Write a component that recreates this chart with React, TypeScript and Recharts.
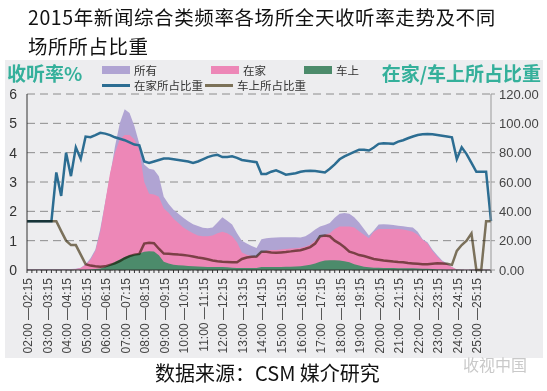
import { Area, CartesianGrid, ComposedChart, Line, XAxis, YAxis } from 'recharts'

// 02:00 - 26:00, one value per 15 minutes (96 slots)
const hourLabels = [
  '02:00 —02:15', '03:00 —03:15', '04:00 —04:15', '05:00 —05:15', '06:00 —06:15', '07:00 —07:15',
  '08:00 —08:15', '09:00 —09:15', '10:00 —10:15', '11:00 —11:15', '12:00 —12:15', '13:00 —13:15',
  '14:00 —14:15', '15:00 —15:15', '16:00 —16:15', '17:00 —17:15', '18:00 —18:15', '19:00 —19:15',
  '20:00 —20:15', '21:00 —21:15', '22:00 —22:15', '23:00 —23:15', '24:00 —24:15', '25:00 —25:15',
]

// 所有 (left axis, %)
const allRating = [
  0.03, 0.03, 0.03, 0.03, 0.03, 0.03, 0.03, 0.03, 0.03, 0.03,
  0.04, 0.08, 0.2, 0.4, 0.7, 1.4, 2.3, 3.2, 4.2, 5.0,
  5.48, 5.35, 4.9, 4.3, 3.6, 3.45, 3.42, 3.2, 2.5, 2.25,
  2.05, 1.92, 1.78, 1.66, 1.56, 1.5, 1.44, 1.42, 1.45, 1.62,
  1.8, 1.68, 1.55, 1.25, 1.0, 0.9, 0.82, 0.75, 1.05, 1.08,
  1.1, 1.11, 1.12, 1.12, 1.12, 1.12, 1.11, 1.15, 1.25, 1.38,
  1.48, 1.53, 1.6, 1.78, 1.92, 1.94, 1.92, 1.8, 1.62, 1.4,
  1.18, 1.35, 1.55, 1.56, 1.55, 1.53, 1.51, 1.49, 1.47, 1.45,
  1.3, 1.05, 0.95, 0.7, 0.5, 0.32, 0.22, 0.1, 0.02, 0.01,
  0.01, 0.01, 0.01, 0.01, 0.01, 0.01,
]

// 在家
const homeRating = [
  0.02, 0.02, 0.02, 0.02, 0.02, 0.02, 0.02, 0.02, 0.02, 0.02,
  0.03, 0.07, 0.18, 0.35, 0.65, 1.3, 2.3, 3.3, 4.0, 4.45,
  4.6, 4.6, 4.45, 4.1, 3.0, 2.6, 2.57, 2.5, 2.1, 1.95,
  1.75, 1.6, 1.45, 1.35, 1.25, 1.18, 1.15, 1.15, 1.18, 1.25,
  1.3, 1.25, 1.15, 0.95, 0.6, 0.52, 0.48, 0.45, 0.6, 0.66,
  0.68, 0.68, 0.7, 0.72, 0.73, 0.74, 0.76, 0.8, 0.86, 1.0,
  1.1, 1.2, 1.25, 1.4, 1.48, 1.48, 1.48, 1.45, 1.32, 1.2,
  1.08, 1.3, 1.4, 1.4, 1.4, 1.4, 1.4, 1.38, 1.35, 1.3,
  1.2, 1.03, 0.9, 0.65, 0.45, 0.3, 0.2, 0.1, 0.02, 0.01,
  0.005, 0.005, 0.005, 0.005, 0.005, 0.005,
]

// 车上
const carRating = [
  0.01, 0.01, 0.01, 0.01, 0.01, 0.01, 0.01, 0.01, 0.01, 0.01,
  0.01, 0.01, 0.01, 0.02, 0.03, 0.05, 0.1, 0.18, 0.27, 0.36,
  0.44, 0.5, 0.53, 0.56, 0.62, 0.64, 0.63, 0.5, 0.28, 0.22,
  0.18, 0.16, 0.15, 0.14, 0.13, 0.12, 0.11, 0.1, 0.1, 0.1,
  0.1, 0.09, 0.08, 0.07, 0.07, 0.07, 0.07, 0.07, 0.1, 0.1,
  0.1, 0.1, 0.1, 0.11, 0.11, 0.12, 0.13, 0.15, 0.18, 0.22,
  0.28, 0.32, 0.33, 0.33, 0.32, 0.3, 0.26, 0.2, 0.15, 0.11,
  0.09, 0.08, 0.08, 0.07, 0.07, 0.07, 0.06, 0.06, 0.06, 0.06,
  0.05, 0.04, 0.04, 0.03, 0.02, 0.02, 0.01, 0.01, 0.005, 0.003,
  0.003, 0.003, 0.003, 0.003, 0.003, 0.003,
]

// 在家所占比重 (right axis)
const homeShare = [
  33.3, 33.3, 33.3, 33.3, 33.3, 33.3, 66.5, 50.5, 80, 64,
  83.6, 75.7, 91, 90.6, 92, 93.5, 93, 92, 90.5, 89.5,
  88.5, 87, 85.5, 85, 74, 73, 74, 75, 76, 76,
  75.5, 75, 74.5, 74, 73, 74, 75.5, 77, 78, 78.5,
  77, 77, 77.5, 76.5, 75, 74.5, 74, 73.5, 65.5, 65.5,
  67, 68, 66.5, 65, 65.5, 66, 67, 67.5, 67.7, 67.5,
  67, 66.5, 69, 72, 75.5, 77.5, 79, 80.5, 82, 82,
  81.5, 83.5, 86, 86.4, 86.2, 86, 87.5, 88.5, 89.8, 91,
  92, 92.5, 92.8, 92.5, 92, 91.5, 91, 90.5, 75.6, 83.6,
  79, 73, 67, 67, 67, 33.4,
]

// 车上所占比重 (right axis)
const carShare = [
  33.3, 33.3, 33.3, 33.3, 33.3, 33.3, 33.3, 26.5, 20, 17,
  17, 10.5, 4, 3, 2.5, 2.3, 2.5, 3.5, 4.5, 6,
  8, 9.5, 10.5, 11, 18, 18.5, 18.3, 14.5, 11.2, 11,
  10.8, 10.5, 10.3, 9.8, 9.2, 8.5, 8, 7.3, 6.5, 6,
  5.7, 5.5, 5.3, 5.3, 7.5, 8.5, 9, 9.2, 12.5, 12.5,
  12, 11.7, 12, 12.3, 12.7, 13.2, 13.5, 14.5, 15.6, 18,
  23, 23.5, 23, 20, 18, 15.5, 12.5, 11.5, 10.2, 9.5,
  8.5, 7.5, 7, 6.5, 6.2, 5.8, 5.5, 5.3, 4.8, 4.5,
  4.2, 3.9, 4, 4.3, 4.6, 4.5, 4.3, 3.5, 13, 17,
  20, 25, 0, 0, 33.3, 33.3,
]

const leftTicks = [0, 1, 2, 3, 4, 5, 6]
const rightTicks = [0, 20, 40, 60, 80, 100, 120]

const data = allRating.map((v, i) => ({
  slot: i,
  all: v,
  home: homeRating[i],
  car: carRating[i],
  homeShare: homeShare[i],
  carShare: carShare[i],
}))

const teal = '#35b09b'
const purple = '#b0a4d3'
const pink = '#ed87b7'
const green = '#4c8b6b'
const blue = '#2c6d92'
const olive = '#847961'
const numFont = '"Liberation Sans", Arial, sans-serif'
const cjkFont = '"Noto Sans CJK SC", sans-serif'

function TimeTick(props: any) {
  const { x, y, payload } = props
  if (payload.value % 4 !== 0) return <g />
  return (
    <text
      transform={`translate(${x + 1},${y}) rotate(-90)`}
      textAnchor="end"
      dominantBaseline="central"
      fontSize={12}
      fontFamily={numFont}
      fill="#444"
    >
      {hourLabels[payload.value / 4]}
    </text>
  )
}

function LegendItem({ left, top, color, label, line }: { left: number; top: number; color: string; label: string; line?: boolean }) {
  return (
    <div style={{ position: 'absolute', left, top, display: 'flex', alignItems: 'center', fontSize: 11.5, color: '#333', fontFamily: cjkFont, lineHeight: '14px' }}>
      <span style={{ display: 'inline-block', width: 28, height: line ? 3 : 8, background: color, marginRight: 4 }} />
      {label}
    </div>
  )
}

const titleStyle = {
  position: 'absolute' as const,
  left: 28,
  fontSize: 19.5,
  letterSpacing: 0.6,
  lineHeight: '28px',
  fontFamily: cjkFont,
  color: '#111',
  whiteSpace: 'nowrap' as const,
}

export default function App() {
  return (
    <div style={{ position: 'absolute', left: 0, top: 0, width: 547, height: 391, background: '#fff', overflow: 'hidden' }}>
      <style>{`.olive-line .recharts-curve{mix-blend-mode:multiply}`}</style>
      <div style={{ ...titleStyle, top: 3 }}>2015年新闻综合类频率各场所全天收听率走势及不同</div>
      <div style={{ ...titleStyle, top: 32 }}>场所所占比重</div>
      <div style={{ position: 'absolute', left: 5, top: 60, width: 538, height: 298, background: '#ededef' }} />
      <div style={{ position: 'absolute', left: 7, top: 60, fontSize: 19, fontWeight: 700, color: teal, fontFamily: cjkFont, lineHeight: '26px' }}>收听率%</div>
      <div style={{ position: 'absolute', right: 6, top: 60, fontSize: 19, fontWeight: 700, color: teal, fontFamily: cjkFont, lineHeight: '26px' }}>在家/车上所占比重</div>
      <LegendItem left={102} top={63} color={purple} label="所有" />
      <LegendItem left={211} top={63} color={pink} label="在家" />
      <LegendItem left={304} top={63} color={green} label="车上" />
      <LegendItem left={102} top={78} color={blue} label="在家所占比重" line />
      <LegendItem left={205} top={78} color="#7b7158" label="车上所占比重" line />

      <div style={{ position: 'absolute', left: 0, top: 0 }}>
        <ComposedChart width={547} height={391} data={data} margin={{ top: 94, right: 0, bottom: 0, left: 0 }}>
          <CartesianGrid yAxisId="left" horizontal vertical={false} stroke="#8c8c8c" strokeDasharray="8 5" />
          <XAxis
            dataKey="slot"
            type="category"
            interval={0}
            height={121}
            tick={<TimeTick />}
            tickSize={3}
            tickMargin={5}
            axisLine={{ stroke: '#333' }}
            tickLine={{ stroke: '#333' }}
          />
          <YAxis
            yAxisId="left"
            domain={[0, 6]}
            ticks={leftTicks}
            width={27}
            tickSize={0}
            tickMargin={10}
            axisLine={{ stroke: '#333' }}
            tick={{ fontSize: 14, fill: '#333', fontFamily: numFont }}
          />
          <YAxis
            yAxisId="right"
            orientation="right"
            domain={[0, 120]}
            ticks={rightTicks}
            width={56}
            tickSize={4}
            tickMargin={4}
            axisLine={{ stroke: '#999' }}
            tickLine={{ stroke: '#999' }}
            tickFormatter={(v: number) => v.toFixed(2)}
            tick={{ fontSize: 13, fill: '#444', fontFamily: numFont }}
          />
          <Area yAxisId="left" type="linear" dataKey="all" stroke="none" fill={purple} fillOpacity={1} isAnimationActive={false} />
          <Area yAxisId="left" type="linear" dataKey="home" stroke="none" fill={pink} fillOpacity={1} isAnimationActive={false} />
          <Area yAxisId="left" type="linear" dataKey="car" stroke="none" fill={green} fillOpacity={1} isAnimationActive={false} />
          <Line yAxisId="right" type="linear" dataKey="homeShare" stroke={blue} strokeWidth={2.5} dot={false} isAnimationActive={false} />
          <Line yAxisId="right" className="olive-line" type="linear" dataKey="carShare" stroke={olive} strokeWidth={2.5} dot={false} isAnimationActive={false} />
        </ComposedChart>
      </div>

      <div style={{ position: 'absolute', left: 155, top: 358, fontSize: 20, fontFamily: cjkFont, color: '#111', lineHeight: '30px' }}>
        数据来源：CSM 媒介研究
      </div>
      <div style={{ position: 'absolute', left: 463, top: 352, fontSize: 16, fontFamily: cjkFont, color: '#c9c9c9', lineHeight: '24px' }}>收视中国</div>
    </div>
  )
}
